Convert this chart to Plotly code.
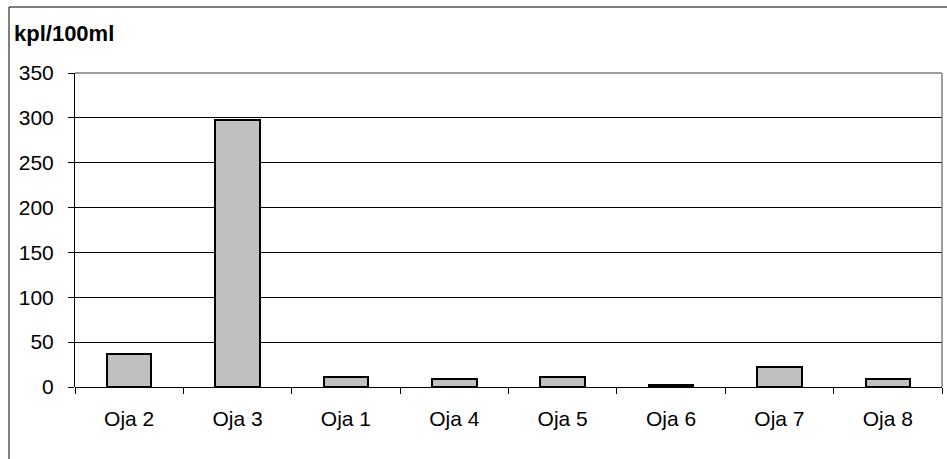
import plotly.graph_objects as go

categories = ["Oja 2", "Oja 3", "Oja 1", "Oja 4", "Oja 5", "Oja 6", "Oja 7", "Oja 8"]
values = [37, 298, 11, 9, 11, 2, 22, 9]
y_ticks = [0, 50, 100, 150, 200, 250, 300, 350]
title_text = "kpl/100ml"

W, H = 947, 459
L, R, T, B = 75, 5, 73, 72
pw = W - L - R
ph = H - T - B

fig = go.Figure()
fig.add_trace(go.Bar(
    x=categories, y=values, width=0.41,
    marker=dict(color="#C0C0C0", line=dict(color="black", width=2)),
))

font = dict(family="Liberation Sans, Arial, sans-serif", size=21, color="black")

fig.update_layout(
    width=W, height=H,
    margin=dict(l=L, r=R, t=T, b=B, autoexpand=False),
    paper_bgcolor="white", plot_bgcolor="white",
    showlegend=False,
    font=font,
    bargap=0,
    xaxis=dict(
        type="category", range=[-0.5, 7.5],
        showgrid=False, showline=False, zeroline=False,
        ticks="outside", tickson="boundaries", ticklen=6, tickcolor="black", tickwidth=1,
        tickfont=font, ticklabelstandoff=17,
    ),
    yaxis=dict(
        range=[0, 350], tickvals=y_ticks,
        showgrid=True, gridcolor="black", gridwidth=1,
        showline=True, linecolor="black", linewidth=1,
        zeroline=True, zerolinecolor="black", zerolinewidth=1,
        ticks="outside", ticklen=6, tickcolor="black", tickwidth=1,
        tickfont=font, ticklabelstandoff=10,
    ),
    shapes=[
        dict(type="line", xref="paper", yref="paper", x0=0, x1=1, y0=1, y1=1,
             line=dict(color="#808080", width=1.5), layer="above"),
        dict(type="line", xref="paper", yref="paper", x0=1, x1=1, y0=0, y1=1,
             line=dict(color="#808080", width=1.5), layer="above"),
        dict(type="rect", xref="paper", yref="paper",
             x0=(9 - L) / pw, x1=(W + 10 - L) / pw,
             y0=(H - T - B - (H + 10 - T)) / ph, y1=(H - B - 7) / ph,
             line=dict(color="black", width=1), layer="above"),
    ],
    annotations=[
        dict(text=title_text, xref="paper", yref="paper",
             x=(12 - L) / pw, y=(H - B - 34) / ph, xanchor="left", yanchor="middle",
             showarrow=False,
             font=dict(family="Liberation Sans, Arial, sans-serif", size=22, color="black",
                       weight="bold")),
    ],
)

fig.write_html("out.html")
